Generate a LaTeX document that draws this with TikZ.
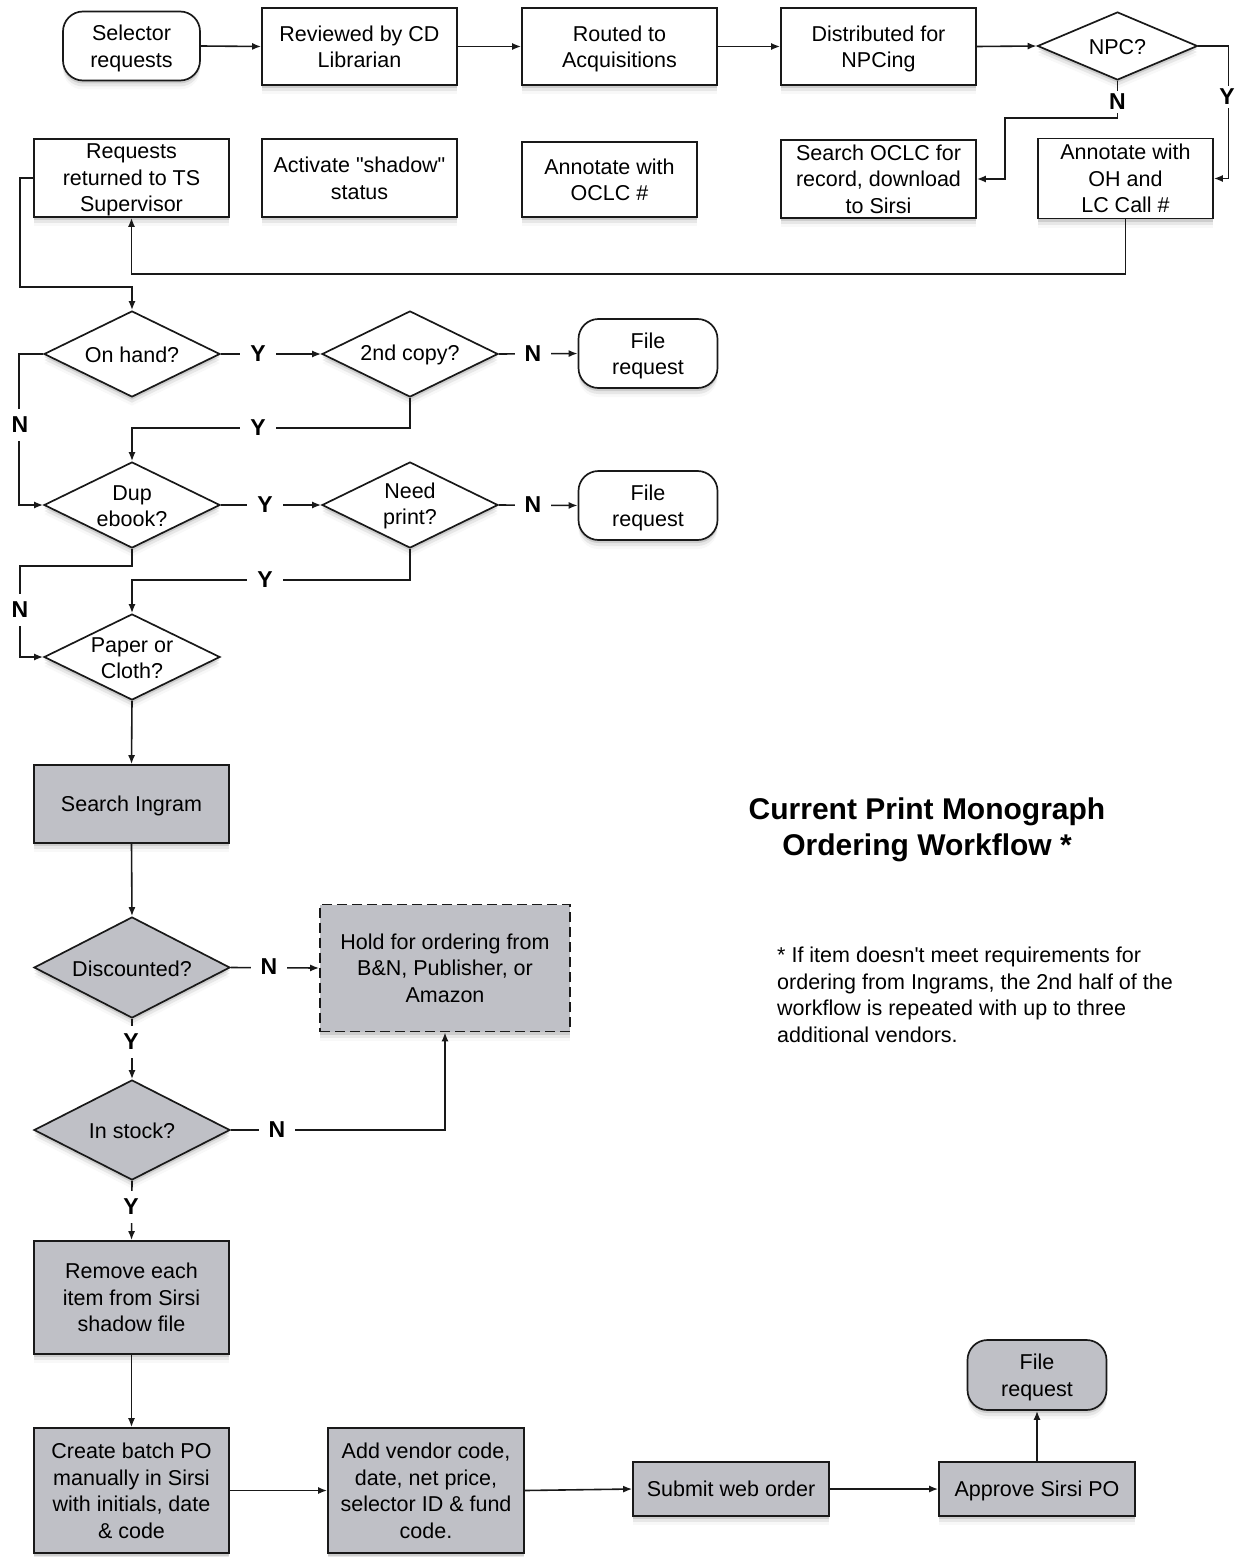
\documentclass[tikz,border=0pt]{standalone}
\usepackage{fontspec}
\setmainfont{Liberation Sans}
\usetikzlibrary{shapes.geometric,arrows.meta,shadows}
\definecolor{boxgrey}{RGB}{191,192,198}
\definecolor{ink}{RGB}{25,25,25}
\begin{document}
\begin{tikzpicture}[x=1pt,y=-1pt,
  font=\fontsize{21.5}{26.5}\selectfont,
  soft/.style={drop shadow={shadow xshift=0pt,shadow yshift=-3pt,opacity=.25},
               drop shadow={shadow xshift=0pt,shadow yshift=-6pt,opacity=.14},
               drop shadow={shadow xshift=0pt,shadow yshift=-9pt,opacity=.06}},
  box/.style={rectangle,draw=ink,line width=1.7pt,fill=white,inner sep=0pt,align=center,soft,text depth=0pt},
  gbox/.style={box,fill=boxgrey},
  term/.style={box,rounded corners=20pt,minimum width=139pt,minimum height=69pt},
  dia/.style={diamond,draw=ink,line width=1.7pt,fill=white,inner sep=0pt,
              minimum width=176pt,minimum height=86pt,soft},
  gdia/.style={dia,fill=boxgrey,minimum width=196pt,minimum height=100pt},
  dtext/.style={label={[align=center,yshift=-1pt]center:#1}},
  conn/.style={line width=1.6pt,draw=ink,-{Latex[length=9pt,width=7pt]}},
  yn/.style={fill=white,font=\fontsize{23}{23}\selectfont\bfseries,inner xsep=10pt,inner ysep=3pt}
]
\useasboundingbox (0,0) rectangle (1237,1557);

% ---- top row
\node[term,minimum width=137pt] (sel) at (131.5,46) {Selector\\requests};
\node[box,minimum width=195pt,minimum height=77pt] (rev) at (359.5,46.5) {Reviewed by CD\\Librarian};
\node[box,minimum width=195pt,minimum height=77pt] (rout) at (619.5,46.5) {Routed to\\Acquisitions};
\node[box,minimum width=195pt,minimum height=77pt] (dist) at (878.5,46.5) {Distributed for\\NPCing};
\node[dia,minimum width=160pt,minimum height=68pt,dtext={NPC?}] (npc) at (1117.5,46) {};

% ---- second row
\node[box,minimum width=195pt,minimum height=78pt] (ret) at (131.5,178) {Requests\\returned to TS\\Supervisor};
\node[box,minimum width=195pt,minimum height=78pt] (act) at (359.5,178) {Activate \textquotedbl shadow\textquotedbl\\status};
\node[box,minimum width=175pt,minimum height=75pt] (ann) at (609.5,179.5) {Annotate with\\OCLC \#};
\node[box,minimum width=195pt,minimum height=78pt] (srch) at (878.5,179) {Search OCLC for\\record, download\\to Sirsi};
\node[box,minimum width=175pt,minimum height=80pt] (annoh) at (1125.5,178.5) {Annotate with\\OH and\\LC Call \#};

% ---- decisions
\node[dia,dtext={On hand?}] (oh) at (132,354) {};
\node[dia,dtext={2nd copy?}] (cp) at (410,354) {};
\node[term] (fr1) at (648,353.5) {File\\request};
\node[dia,dtext={Dup\\ebook?}] (dup) at (132,505) {};
\node[dia,dtext={Need\\print?}] (np) at (410,505) {};
\node[term] (fr2) at (648,505.5) {File\\request};
\node[dia,dtext={Paper or\\Cloth?}] (pc) at (132,657) {};

% ---- grey part
\node[gbox,minimum width=195pt,minimum height=78pt] (ing) at (131.5,804) {Search Ingram};
\node[gdia,minimum height=101pt,dtext={Discounted?}] (disc) at (132,967.5) {};
\node[gbox,dash pattern=on 10pt off 5pt,minimum width=250pt,minimum height=127pt] (hold) at (445,968) {Hold for ordering from\\B\&N, Publisher, or\\Amazon};
\node[gdia,dtext={In stock?}] (stk) at (132,1130) {};
\node[gbox,minimum width=195pt,minimum height=113pt] (rem) at (131.5,1297.5) {Remove each\\item from Sirsi\\shadow file};
\node[gbox,minimum width=195pt,minimum height=125pt] (bat) at (131.5,1490.5) {Create batch PO\\manually in Sirsi\\with initials, date\\\& code};
\node[gbox,minimum width=196pt,minimum height=125pt] (add) at (426,1490.5) {Add vendor code,\\date, net price,\\selector ID \& fund\\code.};
\node[gbox,minimum width=196pt,minimum height=54pt] (web) at (731,1489) {Submit web order};
\node[gbox,minimum width=196pt,minimum height=54pt] (appr) at (1037,1489) {Approve Sirsi PO};
\node[term,fill=boxgrey,minimum height=70pt] (fr3) at (1037,1375) {File\\request};

% ---- title and note
\node[font=\fontsize{30}{36}\selectfont\bfseries,align=center] (title) at (927,830) {Current Print Monograph\\Ordering Workflow *};
\node[anchor=west,align=left,inner sep=0pt] (note) at (777,995) {* If item doesn\textquotesingle t meet requirements for\\ordering from Ingrams, the 2nd half of the\\workflow is repeated with up to three\\additional vendors.};

% ---- coordinates
\coordinate (c1) at (1005,118);
\coordinate (c2) at (131.5,274);
\coordinate (c3) at (20,287);

% ---- connectors
\draw[conn] (sel.east) -- (rev.west);
\draw[conn] (rev.east) -- (rout.west);
\draw[conn] (rout.east) -- (dist.west);
\draw[conn] (dist.east) -- (npc.west);
\draw[conn] (npc.east) -- ++(30,0) |- (annoh.east);
\draw[conn] (npc.south) |- (c1) |- (srch.east);
\draw[conn] (annoh.south) |- (c2) -- (ret.south);
\draw[conn] (ret.west) -| (c3) -| (oh.north);

\draw[conn] (oh.east) -- (cp.west);
\draw[conn] (cp.east) -- (fr1.west);
\draw[conn] (cp.south) |- (132,428) -- (dup.north);
\draw[conn] (oh.west) -- ++(-24,0) |- (dup.west);
\draw[conn] (dup.east) -- (np.west);
\draw[conn] (np.east) -- (fr2.west);
\draw[conn] (np.south) |- (132,580) -- (pc.north);
\draw[conn] (dup.south) |- (20,566) |- (pc.west);
\draw[conn] (pc.south) -- (ing.north);
\draw[conn] (ing.south) -- (disc.north);
\draw[conn] (disc.east) -- (hold.west);
\draw[conn] (disc.south) -- (stk.north);
\draw[conn] (stk.east) -| (hold.south);
\draw[conn] (stk.south) -- (rem.north);
\draw[conn] (rem.south) -- (bat.north);
\draw[conn] (bat.east) -- (add.west);
\draw[conn] (add.east) -- (web.west);
\draw[conn] (web.east) -- (appr.west);
\draw[conn] (appr.north) -- (fr3.south);

% ---- Y / N labels
\node[yn] (l1) at (1227,97) {Y};
\node[yn] (l2) at (1117.5,102) {N};
\node[yn] (l3) at (258,354) {Y};
\node[yn] (l4) at (533,354) {N};
\node[yn] (l5) at (258,428) {Y};
\node[yn,inner xsep=3pt,inner ysep=8pt] (l6) at (20,425) {N};
\node[yn] (l7) at (265,505) {Y};
\node[yn] (l8) at (533,505) {N};
\node[yn] (l9) at (265,580) {Y};
\node[yn,inner xsep=3pt,inner ysep=8pt] (l10) at (20,610) {N};
\node[yn] (l11) at (269,967) {N};
\node[yn,inner xsep=3pt,inner ysep=8pt] (l12) at (131,1042) {Y};
\node[yn] (l13) at (277,1130) {N};
\node[yn,inner xsep=3pt,inner ysep=8pt] (l14) at (131,1207) {Y};
\end{tikzpicture}
\end{document}
